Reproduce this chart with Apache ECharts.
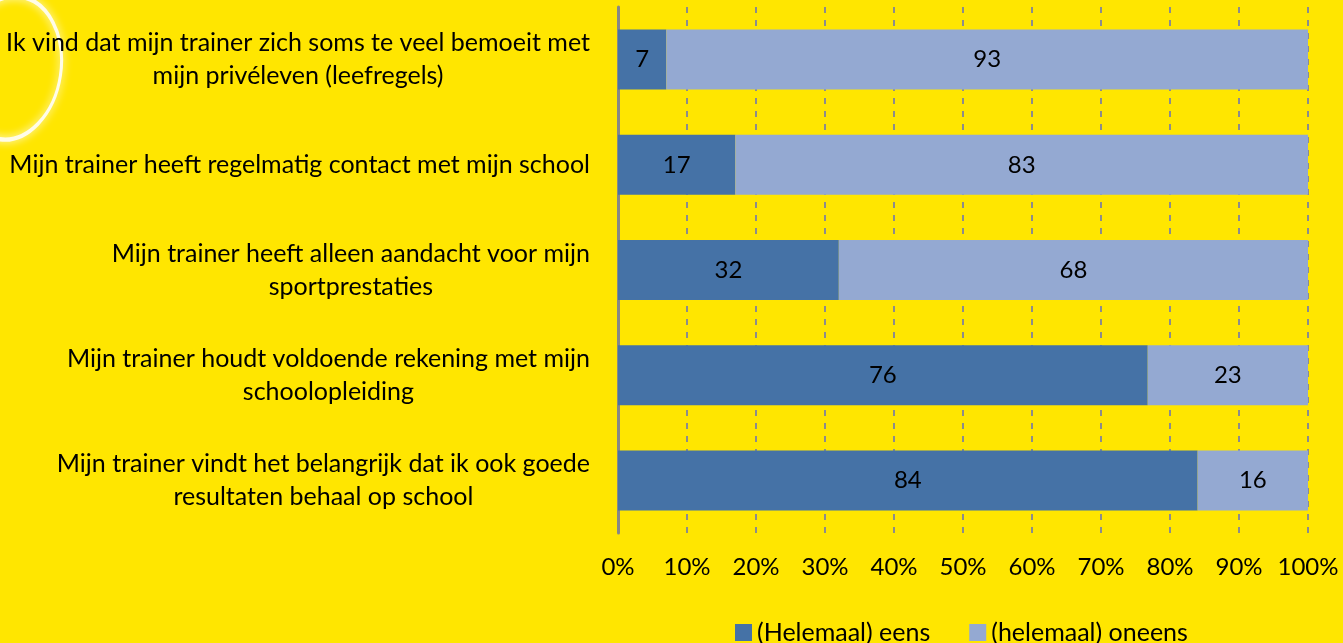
<!DOCTYPE html>
<html>
<head>
<meta charset="utf-8">
<script src="https://cdn.jsdelivr.net/npm/echarts@6/dist/echarts.min.js"></script>
<style>
  html, body { margin: 0; padding: 0; background: #ffe600; }
  #chart { width: 1343px; height: 643px; }
</style>
</head>
<body>
<div id="chart"></div>
<script>
// vragen (van boven naar beneden)
const categories = [
  ['Ik vind dat mijn trainer zich soms te veel bemoeit met', 'mijn privéleven (leefregels)'],
  ['Mijn trainer heeft regelmatig contact met mijn school'],
  ['Mijn trainer heeft alleen aandacht voor mijn', 'sportprestaties'],
  ['Mijn trainer houdt voldoende rekening met mijn', 'schoolopleiding'],
  ['Mijn trainer vindt het belangrijk dat ik ook goede', 'resultaten behaal op school']
];
const eens = [7, 17, 32, 76, 84];
const oneens = [93, 83, 68, 23, 16];
const seriesNames = ['(Helemaal) eens', '(helemaal) oneens'];
const tickLabels = ['0%', '10%', '20%', '30%', '40%', '50%', '60%', '70%', '80%', '90%', '100%'];

const FONT = 'Lato';
const totals = eens.map((v, i) => v + oneens[i]);
const pct = (arr) => arr.map((v, i) => v / totals[i] * 100);

const chart = echarts.init(document.getElementById('chart'));
const option = {
  backgroundColor: '#ffe600',
  animation: false,
  textStyle: { fontFamily: FONT },
  graphic: [
    {
      // witte ellips linksboven (decoratie)
      type: 'circle',
      shape: { cx: 0, cy: 0, r: 50 },
      x: 10, y: 68,
      scaleX: 1.02, scaleY: 1.44,
      rotation: -0.15,
      style: { fill: 'none', stroke: '#fffce8', lineWidth: 3, shadowBlur: 8, shadowColor: '#ffffff' },
      z: 0
    }
  ],
  legend: {
    left: 730,
    top: 615,
    itemWidth: 17,
    itemHeight: 17,
    itemGap: 39,
    icon: 'rect',
    textStyle: { fontFamily: FONT, fontSize: 25, color: '#000' },
    data: seriesNames
  },
  grid: { left: 618, right: 35, top: 7, bottom: 110 },
  xAxis: {
    type: 'value',
    min: 0, max: 100, interval: 10,
    axisLine: { show: false },
    axisTick: { show: false },
    axisLabel: {
      margin: 22,
      fontFamily: FONT, fontSize: 24, color: '#000',
      formatter: (v) => tickLabels[Math.round(v / 10)]
    },
    splitLine: { lineStyle: { color: '#8c8c8c', width: 2, type: [6, 7] } }
  },
  yAxis: {
    type: 'category',
    inverse: true,
    data: categories.map(c => c.map(l => '{t|' + l + '}').join('\n')),
    axisLine: { show: true, lineStyle: { color: '#878787', width: 3 } },
    axisTick: { show: false },
    axisLabel: {
      margin: 28,
      align: 'right',
      fontFamily: FONT, fontSize: 25, color: '#000',
      rich: { t: { fontFamily: FONT, fontSize: 25, color: '#000', align: 'center', lineHeight: 33 } }
    }
  },
  series: [
    {
      name: seriesNames[0], type: 'bar', stack: 'tot', barWidth: 60,
      itemStyle: { color: '#4572a6' },
      label: {
        show: true, position: 'inside', color: '#000', fontFamily: FONT, fontSize: 24,
        formatter: (p) => eens[p.dataIndex]
      },
      data: pct(eens)
    },
    {
      name: seriesNames[1], type: 'bar', stack: 'tot', barWidth: 60,
      itemStyle: { color: '#94a9d2' },
      label: {
        show: true, position: 'inside', color: '#000', fontFamily: FONT, fontSize: 24,
        formatter: (p) => oneens[p.dataIndex]
      },
      data: pct(oneens)
    }
  ]
};
chart.setOption(option);
</script>
</body>
</html>
